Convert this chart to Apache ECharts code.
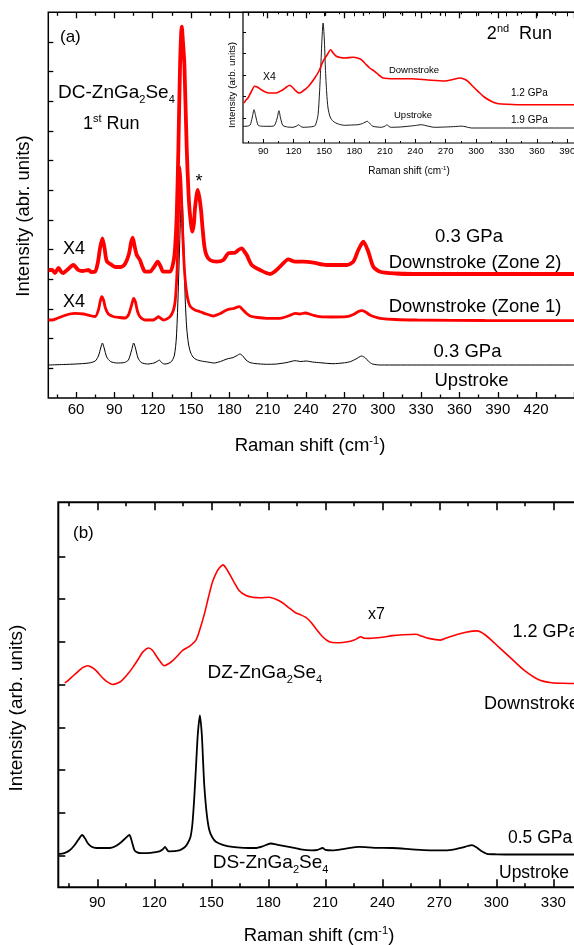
<!DOCTYPE html>
<html>
<head>
<meta charset="utf-8">
<script src="https://cdn.jsdelivr.net/npm/echarts@6/dist/echarts.min.js"></script>
<style>html,body{margin:0;padding:0;background:#fff;}#c{width:574px;height:945px;}</style>
</head>
<body>
<div id="c"></div>
<script>
// ---------------- DATA ----------------
// Panel (a): Raman shift (cm-1) vs intensity (arb. units)
const aUpstroke03 = [[38.5,33],[50,33.5],[60,34],[70,35],[75,37],[77.5,42],[79.5,51],[80.6,55],[82,50],[84,41],[87,36.5],[92,35],[98,35.5],[101,38],[103.5,48],[105.1,55],[106.5,50],[108.5,40],[111,35.5],[116,34],[121,35],[124,37],[125.2,38],[126.5,36],[129,34],[132,34.5],[135,37],[137,43],[138.5,60],[139.8,100],[141,150],[142,188],[142.7,200],[143.4,190],[144.4,150],[145.4,100],[146.6,70],[148,54],[149.5,46],[151.5,41],[154,38.5],[158,37],[163,36],[168,35],[173,36.5],[178,39],[183,40.5],[186,42.5],[188.3,44],[190.5,42],[193,38],[196,35.5],[200,34.5],[209,33.7],[217,34],[225,35.5],[231.4,37.3],[236,36.5],[240,37],[245,36],[251,35.3],[261,34.3],[270,35.2],[275,36.5],[279,39],[283.5,42],[286.5,40],[289,36.5],[292,34],[298,33],[330,33],[380,33],[450,33]];
const aZone1 = [[38.5,78],[41.2,78],[45,79.5],[50,82],[55,84],[59.2,84.7],[66,84],[72,82],[75,81.5],[77.5,88],[79,97],[80.1,101.3],[81.5,98],[83,90],[85.3,84],[89,81.5],[94,80.5],[98.3,80],[101,83],[103.5,93],[105.1,99.7],[106.5,96],[108,87],[110,81.3],[114,78],[120.5,78],[123,80],[124.4,81.3],[126,80],[128.3,78],[131,79],[133.6,81.3],[136,87],[137.5,96],[138.8,120],[139.6,150],[140.5,200],[141.4,231],[142.3,210],[143.3,170],[144.3,140],[145.3,120],[146.6,105],[148,96],[149.5,91.3],[153,88],[157,86.3],[162,84],[167.4,82],[172,84],[177.9,88],[183,89.5],[187.8,91.3],[190,89],[193,85],[196.2,82],[202,80.5],[209.2,79.7],[219.6,79.7],[226,82],[231.4,84.7],[235,84],[239.2,85],[245,83],[250.9,81.3],[260,81],[271.8,81.3],[277,83.5],[281,86.5],[283.5,87.3],[286.5,86],[290,83],[294,81],[297.9,79.7],[310,78.5],[327,78],[380,77.5],[450,77.3]];
const aZone2 = [[38.5,128],[41.2,128],[43.5,125],[46.3,130],[48.5,126],[50,125],[53,128],[57.9,133],[61.8,128],[65,127],[69.7,128],[72,126],[74.9,126.3],[77,135],[78.8,150],[80.6,159.7],[82.3,150],[84,137],[87.9,133],[91,131],[95,131],[98.3,134],[101.4,144],[103,155],[104.3,160.3],[105.8,152],[107.5,143],[110,138],[112,131],[114,126.3],[117.9,126.3],[121,131],[123.9,136.3],[126,132],[128.3,126.3],[133.6,126.3],[136.2,136],[137.5,150],[138.8,183],[140.1,250],[141.4,333],[142.7,371.3],[144,350],[144.8,333],[146.6,250],[148,205],[149.2,183],[151,166.3],[152.3,175],[153.1,190],[155.2,208],[156.6,200],[157.8,188],[159,170],[160.4,152],[162,143],[164.8,138],[170.1,136.3],[175.3,138],[179.2,144.7],[184.4,145.3],[187,148],[189.7,149.7],[192,146],[193.6,143],[197.5,133],[204,128],[211.8,124],[215,126],[219.6,131.3],[226.1,138.7],[231.4,136.3],[237.9,136.3],[245.7,135.3],[256.1,133],[271.8,133],[277,136.3],[280.9,148],[284.8,156.3],[288.7,146.3],[292.6,131.3],[297.9,126.3],[310,124.5],[324,124],[380,124],[450,124]];
// Inset (2nd run)
const insetUp19 = [[70,16.7],[74,16.8],[77,18],[79,25],[80.9,33.3],[82.5,27],[84.8,18],[88,16.8],[97.9,16.7],[101,17.5],[103.5,24],[105.5,32.3],[107,25],[109.4,17.5],[114,16],[119.3,15.7],[123,17],[125,18.3],[127,16.5],[129.3,15.7],[135,16],[140.8,17],[142.5,21],[144.1,28.3],[145.5,50],[146.7,75],[148,105],[149,120],[150.2,105],[151.3,75],[152.6,50],[153.9,35],[156,26],[158.9,21.7],[164,19],[170.4,17.7],[177,18],[183.6,18.3],[188,19.5],[192.7,21.7],[195.5,19],[198.3,16.7],[206.5,15.7],[210,16.8],[212.1,18.3],[214,16.5],[216.4,15.7],[225,16],[232.8,16.7],[240,17.5],[246,18.3],[252,17],[259.1,15.7],[270,16],[280,16.5],[285.4,16.9],[290,16.2],[295.3,15],[330,15],[400,15]];
const insetDown12 = [[71,40],[73,43],[74.9,45],[78,51],[81.5,56.7],[84,56],[88,53.3],[92,51],[96.2,50],[102.8,50],[106,51.5],[109.4,53.3],[113,56],[116.1,57.7],[119,55.5],[121,53.3],[124,50.5],[126,50],[128.5,51.5],[130.9,53.3],[135,57],[140.8,65],[145,72],[149,81.7],[153,88],[156.5,93.3],[159,90],[162.1,86.7],[166,85.5],[170.4,85],[178.6,85.7],[183,85],[186.7,83.3],[191,79],[195,75],[199.9,71.7],[204,68],[208.2,65],[219.7,64.3],[236.2,64.3],[252.6,63],[269.1,62],[277,63.5],[283.8,65],[288,64],[292,61.7],[296,57.5],[301.9,51.7],[308,46],[315,41.7],[320,39.7],[324.9,39],[344.6,38.3],[400,38.3]];
// Panel (b)
const bUpstroke05 = [[69.5,33.5],[70.3,33.5],[73,34.5],[75.5,37],[78,42],[80,47.5],[82,52.3],[83.5,49],[85.1,43.8],[87,40.5],[89.5,39.3],[96.5,39.3],[99,40.5],[101.7,43.8],[104.5,48.5],[106.9,52.3],[108,47],[109.6,37],[111,35],[113.1,34.2],[118,34.5],[122.7,35.9],[124.5,38],[125.6,40.4],[126.6,38],[127.6,35.9],[133.2,37],[136,40],[137.5,43.8],[139,50],[140.1,64.3],[141.2,95],[141.9,119],[142.9,153.2],[144,172],[145,153],[145.7,125],[146.3,102],[147.5,75],[148.9,57.5],[150.5,50],[152.4,45.5],[156,42.5],[161.1,40.4],[167,39.5],[173.3,39.3],[177,41],[181.2,43.8],[185,42.5],[190.8,40.4],[197,38],[203,37],[206,37.5],[208.6,39.3],[210,37.5],[213.8,37],[220,38.5],[227.8,40.4],[236,39.5],[245.3,39.3],[257.5,37.6],[265,37],[273.2,37],[278,38],[282,39.7],[285,41.3],[287.2,42.1],[289.5,40],[291.6,37],[295.1,33.5],[300,33],[310,32.8],[341,32.8]];
const bDownstroke12 = [[72.9,204.5],[75,207.5],[77.2,211.3],[80,216],[82.5,219.9],[85.1,221.6],[87.5,219.5],[89.5,216.4],[92,211],[94.7,206.2],[98.2,202.8],[100.5,204],[102.6,206.2],[105.5,212],[108.7,219.9],[111.5,228],[113.9,235.2],[117.1,239.3],[119,237],[120.9,231.8],[123,226],[125.3,221.6],[127.5,223.5],[129.7,226.7],[132,231],[134.9,236.9],[138.5,241],[141.9,247.2],[144,258],[146.3,272.9],[148.5,290],[150.6,305.3],[152.5,314],[154.1,319],[156.2,322.4],[157.8,319],[159.4,313.9],[162,305],[164.6,296.8],[168,292],[171.6,290],[176,289.5],[180.3,290],[184,288],[187.3,284.8],[190.5,280],[194.3,274.6],[197,272.5],[199.5,270.1],[202,266],[204.8,259.2],[208.6,250.6],[212.1,245.5],[216,244.5],[219.1,244.8],[222,245.5],[225.2,247.2],[227,249],[228.7,250.6],[230.5,249],[233,248.9],[240,250],[245.3,251.7],[251,252.5],[257.5,253],[261,251],[264.5,248.9],[270.6,247.2],[274,249.5],[278.5,252.3],[284,255],[289.8,256.4],[292,255],[294.2,252.3],[297.5,247],[301.2,240.4],[308.1,228.4],[315.1,216.4],[322.1,207.9],[329.1,204.5],[335,204],[341,203.8]];

// Tick values
const aXLabels = [60,90,120,150,180,210,240,270,300,330,360,390,420];
const aXMajor = [60,90,120,150,180,210,240,270,300,330,360,390,420,450];
const aXMinor = [45,75,105,135,165,195,225,255,285,315,345,375,405,435];
const aYTicks = [29.7,59.3,89,118.7,148.3,178,207.7,237.3,267,296.7,326.3,356];
const insetXLabels = [90,120,150,180,210,240,270,300,330,360,390];
const insetXMinor = [75,105,135,165,195,225,255,285,315,345,375];
const insetYTicks = [25,46.5,68,89.5,111];
const bXLabels = [90,120,150,180,210,240,270,300,330];
const bXMinor = [75,105,135,165,195,225,255,285,315];
const bYTicks = [31.8,74.5,117.3,160,202.8,245.5,288.2,331];

// ---------------- CHART ----------------
const FONT = '"Liberation Sans", Arial, Helvetica, sans-serif';
const chart = echarts.init(document.getElementById('c'), null, {renderer: 'canvas'});

function xSet(g, min, max, majors, minors, labels, tl, ml, fs, mg, lw) {
  const base = {type: 'value', gridIndex: g, min: min, max: max, axisLine: {show: false}, splitLine: {show: false}, axisPointer: {show: false}};
  const tk = (vals, len) => ({show: true, inside: true, length: len, customValues: vals, lineStyle: {color: '#000', width: lw}});
  return [
    Object.assign({}, base, {position: 'bottom', axisTick: tk(majors, tl), axisLabel: {show: true, customValues: labels, fontSize: fs, color: '#000', fontFamily: FONT, margin: mg}}),
    Object.assign({}, base, {position: 'bottom', axisTick: tk(minors, ml), axisLabel: {show: false}}),
    Object.assign({}, base, {position: 'top', axisTick: tk(majors, tl), axisLabel: {show: false}}),
    Object.assign({}, base, {position: 'top', axisTick: tk(minors, ml), axisLabel: {show: false}})
  ];
}
function ySet(g, max, ticks, tl, lw) {
  return {type: 'value', gridIndex: g, min: 0, max: max, position: 'left', axisLine: {show: false}, splitLine: {show: false},
    axisTick: {show: true, inside: true, length: tl, customValues: ticks, lineStyle: {color: '#000', width: lw}}, axisLabel: {show: false}};
}
function line(data, xi, yi, color, w) {
  return {type: 'line', data: data, xAxisIndex: xi, yAxisIndex: yi, showSymbol: false, symbol: 'none', smooth: 0.25,
    lineStyle: {color: color, width: w}, silent: true, animation: false};
}
function txt(t, x, y, size, align, extra) {
  const e = {type: 'text', x: x, y: y, z: 100, silent: true,
    style: {text: t, fontSize: size, fontFamily: FONT, fill: '#000', align: align || 'left', verticalAlign: 'middle',
      rich: {
        sub: {fontSize: Math.round(size * 0.6), fontFamily: FONT, fill: '#000', padding: [Math.round(size * 0.75), 0, 0, 0]},
        sup: {fontSize: Math.round(size * 0.6), fontFamily: FONT, fill: '#000', padding: [0, 0, Math.round(size * 0.6), 0]}
      }}};
  return Object.assign(e, extra || {});
}

const grids = [
  {left: 48.3, top: 12.3, width: 527, height: 385.7, show: true, borderColor: '#000', borderWidth: 1.5, backgroundColor: 'transparent', containLabel: false, outerBoundsMode: 'none'},
  {left: 243, top: 12.3, width: 334, height: 130.7, show: true, borderColor: '#000', borderWidth: 1.2, backgroundColor: 'transparent', containLabel: false, outerBoundsMode: 'none'},
  {left: 58.3, top: 502.3, width: 518, height: 385, show: true, borderColor: '#000', borderWidth: 2, backgroundColor: 'transparent', containLabel: false, outerBoundsMode: 'none'}
];

const xAxes = [].concat(
  xSet(0, 38.3, 38.3 + 527 / 1.278, aXMajor, aXMinor, aXLabels, 6, 3.5, 15, 4, 1.3),
  xSet(1, 70, 70 + 334 / 1.0133, insetXLabels, insetXMinor, insetXLabels, 4, 2, 9.5, 3, 1),
  xSet(2, 69.47, 69.47 + 518 / 1.9, bXLabels, bXMinor, bXLabels, 8, 4, 15, 8, 1.6)
);
const yAxes = [ySet(0, 385.7, aYTicks, 5, 1.3), ySet(1, 130.7, insetYTicks, 3, 1), ySet(2, 385, bYTicks, 7, 1.6)];

const series = [
  line(aUpstroke03, 0, 0, '#000000', 1),
  line(aZone1, 0, 0, '#ff0000', 2.8),
  line(aZone2, 0, 0, '#ff0000', 3.8),
  line(insetUp19, 4, 1, '#000000', 0.9),
  line(insetDown12, 4, 1, '#ff0000', 1.6),
  line(bUpstroke05, 8, 2, '#000000', 1.8),
  line(bDownstroke12, 8, 2, '#ff0000', 1.6)
];

const texts = [
  // panel (a)
  txt('(a)', 60, 37, 17),
  txt('DC-ZnGa{sub|2}Se{sub|4}', 58, 93, 19),
  txt('1{sup|st} Run', 83, 124, 18),
  txt('*', 199, 182, 18, 'center'),
  txt('X4', 63, 249.5, 18),
  txt('X4', 63, 302.5, 18),
  txt('0.3 GPa', 469, 236.5, 18.5, 'center'),
  txt('Downstroke (Zone 2)', 475, 262.5, 18.5, 'center'),
  txt('Downstroke (Zone 1)', 475, 307, 18.5, 'center'),
  txt('0.3 GPa', 467.5, 352, 18.5, 'center'),
  txt('Upstroke', 471.5, 381, 18.5, 'center'),
  txt('Intensity (abr. units)', 24, 216, 18.5, 'center', {rotation: Math.PI / 2}),
  txt('Raman shift (cm{sup|-1})', 310, 446, 18.5, 'center'),
  // inset
  txt('2{sup|nd}  Run', 519.5, 34, 18, 'center'),
  txt('X4', 263, 77.5, 10.5),
  txt('Downstroke', 414, 70.5, 9.5, 'center'),
  txt('1.2 GPa', 511, 93.5, 10),
  txt('Upstroke', 394, 115.5, 9.5),
  txt('1.9 GPa', 511, 120.5, 10),
  txt('Raman shift (cm{sup|-1})', 409, 171.5, 10, 'center'),
  txt('Intensity (arb. units)', 232.5, 85, 9.8, 'center', {rotation: Math.PI / 2}),
  // panel (b)
  txt('(b)', 73, 533, 17),
  txt('DZ-ZnGa{sub|2}Se{sub|4}', 207.5, 673, 19),
  txt('x7', 368, 615, 16),
  txt('1.2 GPa', 512.5, 632, 18),
  txt('Downstroke', 484, 704, 18),
  txt('0.5 GPa', 508, 838, 17.5),
  txt('Upstroke', 499, 873, 17.5),
  txt('DS-ZnGa{sub|2}Se{sub|4}', 212.7, 863, 19),
  txt('Intensity (arb. units)', 17, 708, 19, 'center', {rotation: Math.PI / 2}),
  txt('Raman shift (cm{sup|-1})', 319, 936, 18.5, 'center')
];

chart.setOption({
  animation: false,
  backgroundColor: '#ffffff',
  textStyle: {fontFamily: FONT},
  grid: grids,
  xAxis: xAxes,
  yAxis: yAxes,
  series: series,
  graphic: {elements: texts}
});
</script>
</body>
</html>
